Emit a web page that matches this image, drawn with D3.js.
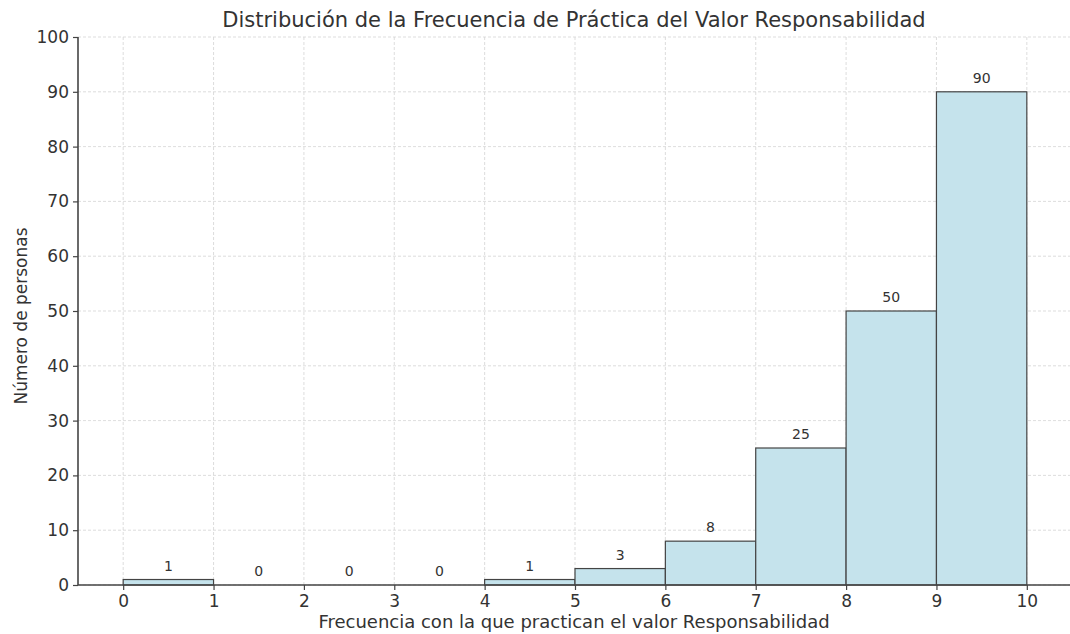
<!DOCTYPE html>
<html>
<head>
<meta charset="utf-8">
<script src="https://cdn.jsdelivr.net/npm/d3@7"></script>
<style>
  body { margin: 0; background: #fff; }
  text { font-family: "DejaVu Sans", sans-serif; fill: #333; }
</style>
</head>
<body>
<svg width="1070" height="634"></svg>
<script>
// bins of the histogram (left edges) and counts
const binStarts = [0, 1, 2, 3, 4, 5, 6, 7, 8, 9];
const counts = [1, 0, 0, 0, 1, 3, 8, 25, 50, 90];
const xTicks = [0, 1, 2, 3, 4, 5, 6, 7, 8, 9, 10];
const yTicks = [0, 10, 20, 30, 40, 50, 60, 70, 80, 90, 100];

const svg = d3.select("svg");
const margin = { left: 78, right: 0, top: 37, bottom: 49 };
const width = 1070, height = 634;

const x = d3.scaleLinear().domain([-0.5, 10.5]).range([margin.left, width + 2]);
const y = d3.scaleLinear().domain([0, 100]).range([height - margin.bottom, margin.top]);

// grid
const grid = svg.append("g");
grid.selectAll("line.v").data(xTicks).enter().append("line")
  .attr("x1", d => x(d)).attr("x2", d => x(d))
  .attr("y1", y(0)).attr("y2", y(100))
  .attr("stroke", "#d4d4d4").attr("stroke-dasharray", "3,2").attr("stroke-width", 0.8);
grid.selectAll("line.h").data(yTicks).enter().append("line")
  .attr("x1", x(-0.5)).attr("x2", width)
  .attr("y1", d => y(d)).attr("y2", d => y(d))
  .attr("stroke", "#d4d4d4").attr("stroke-dasharray", "3,2").attr("stroke-width", 0.8);

// bars
svg.selectAll("rect.bar").data(counts).enter().append("rect")
  .attr("x", (d, i) => x(binStarts[i]))
  .attr("y", d => y(d))
  .attr("width", (d, i) => x(binStarts[i] + 1) - x(binStarts[i]))
  .attr("height", d => y(0) - y(d))
  .attr("fill", "#c5e3ec")
  .attr("stroke", "#444")
  .attr("stroke-width", 1.2);

// value labels
svg.selectAll("text.val").data(counts).enter().append("text")
  .attr("x", (d, i) => x(binStarts[i] + 0.5))
  .attr("y", d => y(d) - 9)
  .attr("text-anchor", "middle")
  .style("font-size", "14px")
  .text(d => d);

// axes
const xAxis = svg.append("g")
  .attr("transform", `translate(0,${y(0)})`)
  .call(d3.axisBottom(x).tickValues(xTicks).tickSize(5).tickPadding(5).tickFormat(d3.format("d")));
const yAxis = svg.append("g")
  .attr("transform", `translate(${margin.left},0)`)
  .call(d3.axisLeft(y).tickValues(yTicks).tickSize(5).tickPadding(4));
[xAxis, yAxis].forEach(a => {
  a.select(".domain").attr("stroke", "#444").attr("stroke-width", 1.6);
  a.selectAll(".tick line").attr("stroke", "#444").attr("stroke-width", 1.2);
  a.selectAll(".tick text").style("font-size", "17px").attr("fill", "#222").style("font-family", "DejaVu Sans, sans-serif");
});
xAxis.select(".domain").attr("d", `M${x(-0.5)},0H${width}`);
yAxis.select(".domain").attr("d", `M0,${y(0)}V${y(100)}`);

// titles
svg.append("text").attr("x", 574).attr("y", 27).attr("text-anchor", "middle")
  .style("font-size", "21px").text("Distribución de la Frecuencia de Práctica del Valor Responsabilidad");
svg.append("text").attr("x", 574).attr("y", 628).attr("text-anchor", "middle")
  .style("font-size", "18px").text("Frecuencia con la que practican el valor Responsabilidad");
svg.append("text").attr("transform", `translate(27,316) rotate(-90)`)
  .attr("text-anchor", "middle")
  .style("font-size", "17px").text("Número de personas");
</script>
</body>
</html>
